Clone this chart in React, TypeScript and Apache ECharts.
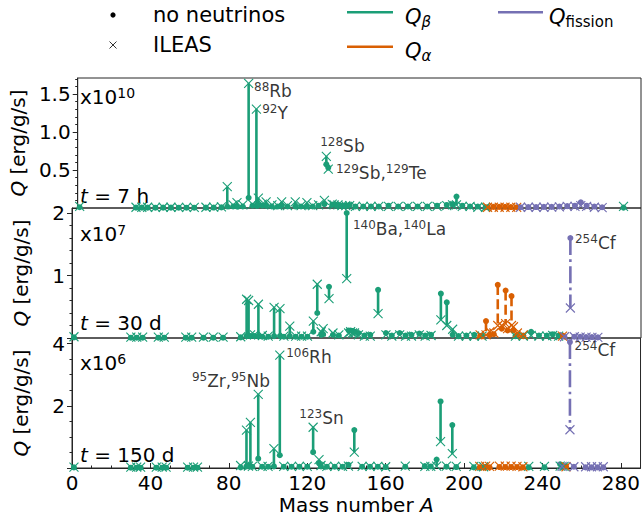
import React, { useEffect, useRef } from "react";
import * as echarts from "echarts";

const GREEN = "#1b9e77";
const ORANGE = "#d95f02";
const PURPLE = "#7570b3";
const FONT = "DejaVu Sans";

// ---- axes ----
const xMin = 0;
const xMax = 290;
const xTickValues = [0, 40, 80, 120, 160, 200, 240, 280];
const panelYMax = [1.71, 2.08, 4.18];
const panelYTicks = [[0, 0.5, 1.0, 1.5], [0, 1, 2], [0, 2, 4]];
const panelYMinorStep = [0.1, 0.2, 0.5];
const panelExponent = ["10", "7", "6"];
const panelTime = ["7 h", "30 d", "150 d"];

// ---- data: [mass number A, Q no neutrinos, Q ILEAS] ----
// panel 1: t = 7 h (x10^10 erg/g/s)
const p1Beta: number[][] = [
  [1, 0.01, 0.02], [30, 0.005, 0.01], [33, 0.005, 0.01], [36, 0.005, 0.01], [40, 0.004, 0.008],
  [44, 0.005, 0.01], [48, 0.005, 0.01], [52, 0.004, 0.008], [56, 0.004, 0.008], [60, 0.004, 0.008],
  [66, 0.005, 0.01], [70, 0.006, 0.012], [74, 0.008, 0.015], [77, 0.02, 0.28], [80, 0.02, 0.04],
  [82, 0.02, 0.07], [85, 0.02, 0.04], [88, 0.135, 1.64], [90, 0.03, 0.05], [92, 0.03, 1.3],
  [93, 0.04, 0.13], [95, 0.03, 0.05], [97, 0.03, 0.08], [100, 0.02, 0.04], [103, 0.02, 0.03],
  [105, 0.03, 0.08], [108, 0.02, 0.03], [112, 0.02, 0.08], [115, 0.02, 0.03], [118, 0.02, 0.07],
  [121, 0.02, 0.03], [124, 0.03, 0.04], [127, 0.05, 0.1], [128, 0.575, 0.68], [129, 0.53, 0.51],
  [131, 0.04, 0.05], [132, 0.05, 0.04], [134, 0.04, 0.04], [136, 0.03, 0.03], [138, 0.03, 0.03],
  [140, 0.04, 0.03], [143, 0.02, 0.02], [147, 0.02, 0.02], [151, 0.02, 0.02], [155, 0.02, 0.02],
  [160, 0.03, 0.02], [165, 0.02, 0.02], [170, 0.02, 0.02], [175, 0.02, 0.02], [180, 0.02, 0.02],
  [185, 0.03, 0.02], [190, 0.04, 0.03], [193, 0.05, 0.04], [195, 0.15, 0.04], [198, 0.03, 0.02],
  [202, 0.02, 0.02], [206, 0.02, 0.01], [210, 0.01, 0.01], [281, 0.005, 0.02],
];
const p1Alpha: number[][] = [
  [211, 0.01, 0.01], [214, 0.015, 0.01], [217, 0.015, 0.01], [220, 0.015, 0.01], [223, 0.012, 0.01], [226, 0.01, 0.008],
];
const p1Fission: number[][] = [
  [228, 0.01, 0.01], [232, 0.012, 0.01], [236, 0.012, 0.01], [240, 0.015, 0.01], [244, 0.015, 0.012],
  [248, 0.02, 0.015], [252, 0.025, 0.02], [256, 0.03, 0.02], [259, 0.075, 0.03], [262, 0.03, 0.02],
  [266, 0.02, 0.01], [270, 0.01, 0.005],
];

// panel 2: t = 30 d (x10^7 erg/g/s)
const p2Beta: number[][] = [
  [1, 0.01, 0.02], [30, 0.005, 0.015], [33, 0.005, 0.015], [36, 0.005, 0.015], [44, 0.005, 0.015],
  [47, 0.005, 0.015], [58, 0.005, 0.015], [61, 0.005, 0.015], [67, 0.005, 0.015], [72, 0.005, 0.015],
  [77, 0.005, 0.015], [86, 0.01, 0.02], [89, 0.03, 0.62], [90, 0.04, 0.6], [91, 0.03, 0.05],
  [93, 0.03, 0.05], [95, 0.03, 0.54], [97, 0.02, 0.04], [100, 0.02, 0.03], [103, 0.03, 0.49],
  [106, 0.03, 0.47], [108, 0.02, 0.03], [111, 0.03, 0.19], [114, 0.02, 0.03], [117, 0.02, 0.03],
  [120, 0.02, 0.03], [123, 0.1, 0.27], [125, 0.4, 0.86], [127, 0.05, 0.1], [128, 0.06, 0.15],
  [131, 0.82, 0.63], [133, 0.05, 0.08], [136, 0.04, 0.05], [140, 2.0, 0.95], [141, 0.12, 0.08],
  [142, 0.12, 0.1], [143, 0.11, 0.08], [144, 0.1, 0.08], [146, 0.08, 0.05], [149, 0.04, 0.03],
  [152, 0.05, 0.03], [156, 0.77, 0.39], [160, 0.08, 0.05], [163, 0.04, 0.03], [167, 0.08, 0.05],
  [170, 0.04, 0.03], [173, 0.05, 0.03], [177, 0.07, 0.05], [180, 0.04, 0.03], [183, 0.05, 0.04],
  [188, 0.71, 0.29], [191, 0.57, 0.2], [194, 0.05, 0.14], [197, 0.03, 0.03], [201, 0.04, 0.03],
  [205, 0.05, 0.03], [209, 0.04, 0.03], [226, 0.03, 0.03], [230, 0.04, 0.03], [234, 0.1, 0.04],
  [238, 0.04, 0.03], [242, 0.04, 0.03], [245, 0.06, 0.04], [248, 0.04, 0.03],
];
const p2Alpha: number[][] = [
  [208, 0.03, 0.05], [211, 0.27, 0.05], [213, 0.05, 0.1], [215, 0.06, 0.08], [217, 0.85, 0.2],
  [219, 0.15, 0.2], [221, 0.76, 0.23], [222, 0.12, 0.15], [224, 0.67, 0.2], [225, 0.12, 0.18],
  [227, 0.05, 0.08], [230, 0.03, 0.05], [250, 0.04, 0.03],
];
const p2Fission: number[][] = [
  [251, 0.02, 0.02], [254, 1.6, 0.48], [256, 0.02, 0.02], [259, 0.02, 0.015], [262, 0.015, 0.015],
  [265, 0.015, 0.01], [268, 0.01, 0.01],
];

// panel 3: t = 150 d (x10^6 erg/g/s)
const p3Beta: number[][] = [
  [1, 0.02, 0.03], [30, 0.01, 0.03], [33, 0.01, 0.03], [35, 0.01, 0.03], [43, 0.01, 0.03],
  [46, 0.01, 0.03], [48, 0.01, 0.03], [59, 0.01, 0.03], [62, 0.01, 0.03], [64, 0.01, 0.03],
  [86, 0.02, 0.08], [89, 0.05, 1.22], [90, 0.08, 0.06], [91, 0.05, 1.47], [92, 0.04, 0.05],
  [95, 0.3, 2.37], [97, 0.04, 0.05], [100, 0.04, 0.05], [103, 0.05, 0.62], [106, 0.41, 3.63],
  [108, 0.04, 0.05], [112, 0.04, 0.05], [116, 0.04, 0.05], [120, 0.04, 0.05], [123, 0.51, 1.31],
  [126, 0.15, 0.27], [127, 0.05, 0.08], [130, 0.04, 0.05], [134, 0.04, 0.05], [138, 0.04, 0.05],
  [141, 0.1, 0.06], [144, 1.22, 0.51], [148, 0.04, 0.05], [152, 0.04, 0.05], [156, 0.04, 0.05],
  [160, 0.03, 0.04], [170, 0.04, 0.06], [180, 0.06, 0.05], [183, 0.05, 0.05], [186, 0.27, 0.06],
  [188, 2.14, 0.85], [191, 0.04, 0.06], [194, 1.38, 0.46], [196, 0.03, 0.05], [205, 0.02, 0.05],
  [210, 0.02, 0.04], [233, 0.02, 0.05], [241, 0.02, 0.05], [249, 0.12, 0.06], [251, 0.05, 0.05],
];
const p3Alpha: number[][] = [
  [208, 0.02, 0.05], [211, 0.03, 0.06], [213, 0.02, 0.05], [218, 0.03, 0.06], [221, 0.03, 0.06],
  [224, 0.03, 0.06], [227, 0.03, 0.05], [230, 0.02, 0.04], [252, 0.05, 0.04],
];
const p3Fission: number[][] = [
  [250, 0.03, 0.05], [254, 4.05, 1.23], [256, 0.04, 0.04], [262, 0.02, 0.04], [265, 0.02, 0.04],
  [268, 0.02, 0.04], [271, 0.02, 0.04],
];

// ---- isotope annotations: [A, Q, [sup, text, sup, text ...]] ----
const p1Labels: [number, number, string[]][] = [
  [90.5, 1.535, ["88", "Rb"]],
  [94.7, 1.245, ["92", "Y"]],
  [124.6, 0.818, ["128", "Sb"]],
  [132.7, 0.456, ["129", "Sb,", "129", "Te"]],
];
const p2Labels: [number, number, string[]][] = [
  [142.9, 1.745, ["140", "Ba,", "140", "La"]],
  [256.1, 1.518, ["254", "Cf"]],
];
const p3Labels: [number, number, string[]][] = [
  [60.9, 2.8, ["95", "Zr,", "95", "Nb"]],
  [109, 3.585, ["106", "Rh"]],
  [115.7, 1.6, ["123", "Sn"]],
  [256.1, 3.78, ["254", "Cf"]],
];

const panels = [
  { beta: p1Beta, alpha: p1Alpha, fission: p1Fission, labels: p1Labels },
  { beta: p2Beta, alpha: p2Alpha, fission: p2Fission, labels: p2Labels },
  { beta: p3Beta, alpha: p3Alpha, fission: p3Fission, labels: p3Labels },
];

const GRID_LEFT = 72;
const GRID_RIGHT = 2;
const GRID_TOP = 78;
const GRID_H = 130;

const X_SYMBOL = "path://M0 0L10 10M10 0L0 10";

function minorValues(step: number, max: number, majorStep: number): number[] {
  const out: number[] = [];
  const n = Math.floor(max / step + 1e-9);
  for (let k = 1; k <= n; k++) {
    const v = +(k * step).toFixed(6);
    const r = v / majorStep;
    if (Math.abs(r - Math.round(r)) > 1e-6) out.push(v);
  }
  return out;
}

function buildOption() {
  const grids = [0, 1, 2].map((i) => ({
    left: GRID_LEFT,
    right: GRID_RIGHT,
    top: GRID_TOP + i * GRID_H,
    height: GRID_H,
    show: true,
    borderColor: "#262626",
    borderWidth: 1,
    backgroundColor: "transparent",
  }));

  const xAxes: any[] = [0, 1, 2].map((i) => ({
    type: "value",
    gridIndex: i,
    position: "bottom",
    min: xMin,
    max: xMax,
    interval: 40,
    show: i === 2,
    axisLine: { show: true, lineStyle: { color: "#262626", width: 1 } },
    axisTick: { show: true, inside: true, length: 5, customValues: xTickValues, lineStyle: { color: "#262626" } },
    axisLabel: {
      show: true,
      customValues: xTickValues,
      fontFamily: FONT,
      fontSize: 20,
      color: "#000",
      margin: 5,
    },
    splitLine: { show: false },
    name: i === 2 ? "Mass number {i|A}" : "",
    nameLocation: "middle",
    nameGap: 27,
    nameTextStyle: {
      fontFamily: FONT,
      fontSize: 20,
      color: "#000",
      rich: { i: { fontFamily: FONT, fontSize: 20, fontStyle: "italic", color: "#000" } },
    },
  }));
  // minor ticks of the x axis
  xAxes.push({
    type: "value",
    gridIndex: 2,
    position: "bottom",
    min: xMin,
    max: xMax,
    interval: 10,
    axisLine: { show: false },
    axisTick: { show: true, inside: true, length: 2.5, lineStyle: { color: "#262626" } },
    axisLabel: { show: false },
    splitLine: { show: false },
  });

  const yAxes: any[] = [0, 1, 2].map((i) => {
    const ticks = panelYTicks[i];
    const major = ticks[1] - ticks[0];
    return {
      type: "value",
      gridIndex: i,
      position: "left",
      min: 0,
      max: panelYMax[i],
      interval: major,
      axisLine: { show: true, lineStyle: { color: "#262626", width: 1 } },
      axisTick: { show: true, inside: false, length: 5, customValues: ticks, lineStyle: { color: "#262626" } },
      axisLabel: {
        show: true,
        customValues: ticks.slice(1),
        formatter: (v: number) => (i === 0 ? v.toFixed(1) : String(Math.round(v))),
        fontFamily: FONT,
        fontSize: 20,
        color: "#000",
        margin: 7,
      },
      splitLine: { show: false },
      name: "{q|Q} [erg/g/s]",
      nameLocation: "middle",
      nameRotate: 90,
      nameGap: 41,
      nameTextStyle: {
        fontFamily: FONT,
        fontSize: 20,
        color: "#000",
        rich: { q: { fontFamily: FONT, fontSize: 20, fontStyle: "italic", color: "#000" } },
      },
    };
  });
  [0, 1, 2].forEach((i) => {
    const major = panelYTicks[i][1] - panelYTicks[i][0];
    yAxes.push({
      type: "value",
      gridIndex: i,
      position: "left",
      offset: 0,
      min: 0,
      max: panelYMax[i],
      interval: panelYMinorStep[i],
      axisLine: { show: false },
      axisTick: {
        show: true,
        inside: false,
        length: 2.5,
        customValues: minorValues(panelYMinorStep[i], panelYMax[i], major),
        lineStyle: { color: "#262626" },
      },
      axisLabel: { show: false },
      splitLine: { show: false },
    });
  });

  const series: any[] = [];
  panels.forEach((p, i) => {
    const chans: [number[][], string, number[] | null][] = [
      [p.beta, GREEN, null],
      [p.alpha, ORANGE, [10, 4.3]],
      [p.fission, PURPLE, [17, 4.3, 2.7, 4.3]],
    ];
    chans.forEach(([data, color, dash]) => {
      series.push({
        type: "custom",
        xAxisIndex: i,
        yAxisIndex: i,
        silent: true,
        clip: true,
        data: data,
        dimensions: ["A", "noNu", "ileas"],
        encode: { x: 0, y: [1, 2] },
        renderItem: (_params: any, api: any) => {
          const a = api.value(0);
          const p1 = api.coord([a, api.value(1)]);
          const p2 = api.coord([a, api.value(2)]);
          return {
            type: "line",
            shape: { x1: p1[0], y1: p1[1], x2: p2[0], y2: p2[1] },
            style: { stroke: color, lineWidth: 2.6, lineDash: dash || undefined, fill: null },
          };
        },
      });
    });
    chans.forEach(([data, color]) => {
      series.push({
        type: "scatter",
        xAxisIndex: i,
        yAxisIndex: i,
        silent: true,
        symbol: "circle",
        symbolSize: 6,
        itemStyle: { color, opacity: 1 },
        data: data.map((d) => [d[0], d[1]]),
      });
    });
    chans.forEach(([data, color]) => {
      series.push({
        type: "scatter",
        xAxisIndex: i,
        yAxisIndex: i,
        silent: true,
        symbol: X_SYMBOL,
        symbolSize: 9,
        itemStyle: { color: "rgba(0,0,0,0)", borderColor: color, borderWidth: 1.1, opacity: 1 },
        data: data.map((d) => [d[0], d[2]]),
      });
    });
    series.push({
      type: "scatter",
      xAxisIndex: i,
      yAxisIndex: i,
      silent: true,
      symbolSize: 1,
      itemStyle: { color: "rgba(0,0,0,0)" },
      data: p.labels.map((l) => ({ value: [l[0], l[1]], name: l[2].join("|") })),
      label: {
        show: true,
        position: "right",
        distance: 0,
        color: "#000",
        fontFamily: FONT,
        formatter: (prm: any) => {
          const parts = String(prm.name).split("|");
          let s = "";
          for (let k = 0; k < parts.length; k += 2) s += `{s|${parts[k]}}{m|${parts[k + 1]}}`;
          return s;
        },
        rich: {
          s: { fontFamily: FONT, fontSize: 12, color: "#000", verticalAlign: "top", lineHeight: 11 },
          m: { fontFamily: FONT, fontSize: 17, color: "#000", lineHeight: 20 },
        },
      },
      z: 10,
    });
  });

  const expY = [97, 234, 363];
  const timeY = [196, 323, 455];
  const graphic: any[] = [];
  [0, 1, 2].forEach((i) => {
    graphic.push({
      type: "text",
      x: 80,
      y: expY[i],
      silent: true,
      style: {
        text: `{a|x10}{s|${panelExponent[i]}}`,
        align: "left",
        verticalAlign: "middle",
        fill: "#000",
        rich: {
          a: { fontFamily: FONT, fontSize: 20, fill: "#000", lineHeight: 22 },
          s: { fontFamily: FONT, fontSize: 14, fill: "#000", verticalAlign: "top", lineHeight: 12 },
        },
      },
    });
    graphic.push({
      type: "text",
      x: 80,
      y: timeY[i],
      silent: true,
      style: {
        text: `{i|t} = ${panelTime[i]}`,
        align: "left",
        verticalAlign: "middle",
        fill: "#000",
        font: `20px '${FONT}'`,
        rich: { i: { fontFamily: FONT, fontSize: 20, fontStyle: "italic", fill: "#000" } },
      },
    });
  });

  // legend
  graphic.push(
    { type: "circle", silent: true, shape: { cx: 113, cy: 15, r: 2.6 }, style: { fill: "#000" } },
    { type: "line", silent: true, shape: { x1: 109.5, y1: 41.5, x2: 116.5, y2: 48.5 }, style: { stroke: "#333", lineWidth: 1 } },
    { type: "line", silent: true, shape: { x1: 116.5, y1: 41.5, x2: 109.5, y2: 48.5 }, style: { stroke: "#333", lineWidth: 1 } },
    {
      type: "text", x: 153, y: 14.5, silent: true,
      style: { text: "no neutrinos", font: `21px '${FONT}'`, fill: "#000", align: "left", verticalAlign: "middle" },
    },
    {
      type: "text", x: 153, y: 44.5, silent: true,
      style: { text: "ILEAS", font: `21px '${FONT}'`, fill: "#000", align: "left", verticalAlign: "middle" },
    },
    { type: "line", silent: true, shape: { x1: 347, y1: 12.3, x2: 393, y2: 12.3 }, style: { stroke: GREEN, lineWidth: 2.6 } },
    { type: "line", silent: true, shape: { x1: 347, y1: 46.7, x2: 393, y2: 46.7 }, style: { stroke: ORANGE, lineWidth: 2.6 } },
    { type: "line", silent: true, shape: { x1: 498, y1: 12.3, x2: 543, y2: 12.3 }, style: { stroke: PURPLE, lineWidth: 2.6 } },
  );
  const legendRich = {
    q: { fontFamily: FONT, fontSize: 21, fontStyle: "italic", fill: "#000", lineHeight: 24 },
    s: { fontFamily: FONT, fontSize: 15, fontStyle: "italic", fill: "#000", verticalAlign: "bottom", lineHeight: 10 },
    u: { fontFamily: FONT, fontSize: 15, fill: "#000", verticalAlign: "bottom", lineHeight: 10 },
  };
  graphic.push(
    { type: "text", x: 405, y: 17, silent: true, style: { text: "{q|Q}{s|β}", align: "left", verticalAlign: "middle", rich: legendRich } },
    { type: "text", x: 405, y: 51, silent: true, style: { text: "{q|Q}{s|α}", align: "left", verticalAlign: "middle", rich: legendRich } },
    { type: "text", x: 549, y: 17, silent: true, style: { text: "{q|Q}{u|fission}", align: "left", verticalAlign: "middle", rich: legendRich } },
  );

  return {
    animation: false,
    backgroundColor: "#fff",
    textStyle: { fontFamily: FONT },
    grid: grids,
    xAxis: xAxes,
    yAxis: yAxes,
    series,
    graphic,
  };
}

export default function App() {
  const ref = useRef<HTMLDivElement>(null);
  useEffect(() => {
    if (!ref.current) return;
    const chart = echarts.init(ref.current, undefined, { renderer: "svg" });
    chart.setOption(buildOption() as any);
    return () => chart.dispose();
  }, []);
  return (
    <div
      ref={ref}
      style={{ position: "fixed", left: 0, top: 0, width: 643, height: 517, background: "#fff" }}
    />
  );
}
